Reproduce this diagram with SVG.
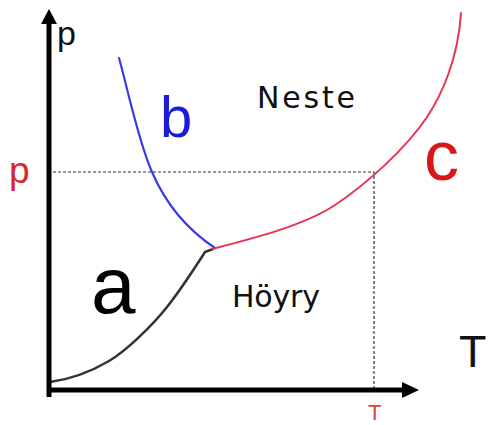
<svg xmlns="http://www.w3.org/2000/svg" width="488" height="425" viewBox="0 0 488 425">
<style>
.t{font-family:"Liberation Sans",Arial,sans-serif}
.w{font-family:"DejaVu Sans","Liberation Sans",sans-serif}
.axis{stroke:#000;stroke-width:5;fill:none}
.dash{stroke:#333;stroke-width:1.2;stroke-dasharray:3 2;fill:none}
.curve{fill:none;stroke-linecap:round;stroke-linejoin:round}
</style>
<rect width="488" height="425" fill="#fff"/>
<g id="guides">
<path class="dash" d="M53,172 H374 V388"/>
</g>
<g id="curves">
<path id="curve-a" class="curve" stroke="#333" stroke-width="2.5" d="M50,382 C72,379 92,371 109,361 C126,351 152,326 167,307 C182,288 196,266 205,252 L213,249"/>
<path id="curve-b" class="curve" stroke="#3b3be6" stroke-width="2.2" d="M119,58 C128,90 138,140 152,172 C164,200 185,228 215,248"/>
<path id="curve-c" class="curve" stroke="#e63552" stroke-width="2" d="M212,249 C255,238 305,225 335,205 C365,185 405,150 427,117 C441,96 458,60 461,13"/>
</g>
<g id="axes">
<path class="axis" d="M49,22 V397"/>
<path class="axis" d="M47,390 H403"/>
<polygon points="49,9 41,24 57,24" fill="#000"/>
<polygon points="419,390 402,382 402,398" fill="#000"/>
</g>
<g id="labels" class="t">
<text x="57" y="45" font-size="34" fill="#111">p</text>
<text x="9" y="183" font-size="37" fill="#d62a2a">p</text>
<text x="459" y="367" font-size="45" fill="#111">T</text>
<text x="368" y="420" font-size="22" fill="#e04040">T</text>
<text x="91" y="313" font-size="80" fill="#000">a</text>
<text x="160" y="137" font-size="58" fill="#1c1cd8">b</text>
<text x="424" y="180" font-size="70" fill="#d81818">c</text>
<text class="w" x="257" y="108" font-size="30" fill="#111" textLength="98" lengthAdjust="spacing">Neste</text>
<text class="w" x="232" y="307" font-size="30" fill="#111" textLength="88" lengthAdjust="spacing">Höyry</text>
</g>
</svg>
